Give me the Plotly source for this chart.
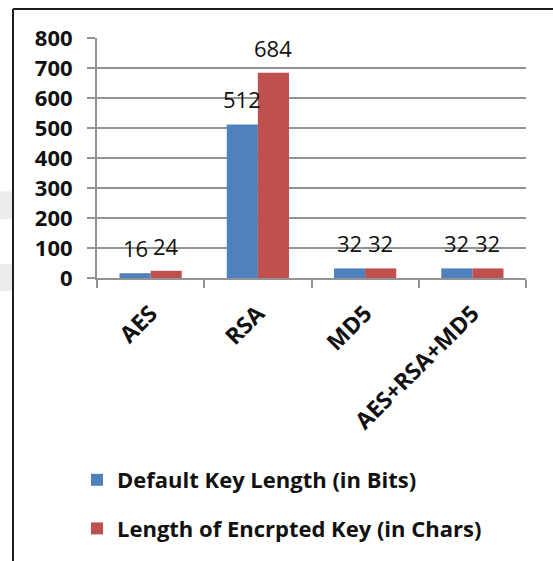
import plotly.graph_objects as go

# Key lengths per algorithm
algorithms = ["AES", "RSA", "MD5", "AES+RSA+MD5"]
default_key_bits = [16, 512, 32, 32]
encrypted_key_chars = [24, 684, 32, 32]
series_names = ["Default Key Length (in Bits)", "Length of Encrpted Key (in Chars)"]
series_colors = ["#4F81BD", "#C0504D"]
y_ticks = [0, 100, 200, 300, 400, 500, 600, 700, 800]

W, H = 553, 561
ML, MR, MT, MB = 97, 27, 38, 282
PW, PH = W - ML - MR, H - MT - MB
FONT = "Open Sans"


def px_x(x):
    return (x - ML) / PW


def px_y(y):
    return 1 - (y - MT) / PH


BARGAP = 0.42
bar_w = (1 - BARGAP) / 2

fig = go.Figure()
for i, (name, vals, col) in enumerate(zip(series_names,
                                           [default_key_bits, encrypted_key_chars],
                                           series_colors)):
    fig.add_trace(go.Bar(
        x=algorithms, y=vals, name=name, marker_color=col,
        marker_line_width=0, legendgroup=f"g{i}",
    ))

# value labels over each bar
annotations = []
for i, vals in enumerate([default_key_bits, encrypted_key_chars]):
    offset = (i - 0.5) * bar_w
    for k, v in enumerate(vals):
        annotations.append(dict(
            x=k + offset, y=v, xref="x", yref="y", text=str(v),
            showarrow=False, yanchor="middle", yshift=25,
            font=dict(family=FONT, size=22, color="#111111"),
        ))

grid_col = "#939393"
fig.update_layout(
    width=W, height=H,
    margin=dict(l=ML, r=MR, t=MT, b=MB),
    paper_bgcolor="white", plot_bgcolor="white",
    barmode="group", bargap=BARGAP, bargroupgap=0,
    font=dict(family=FONT, color="#111111"),
    annotations=annotations,
    showlegend=True,
    legend=dict(
        orientation="v", x=px_x(77), y=px_y(459), xanchor="left", yanchor="top",
        font=dict(family=FONT, size=22, color="#111111", weight="bold"),
        traceorder="grouped", tracegroupgap=17, bgcolor="rgba(0,0,0,0)",
    ),
    xaxis=dict(
        type="category", tickson="boundaries", ticks="outside", ticklen=8,
        tickcolor=grid_col, tickwidth=2, showline=True, linecolor=grid_col,
        linewidth=2, showgrid=False, tickangle=-45, ticklabelstandoff=11,
        tickfont=dict(family=FONT, size=23, color="#111111", weight="bold"),
    ),
    yaxis=dict(
        range=[0, 800], tickvals=y_ticks, ticks="outside", ticklen=8,
        tickcolor=grid_col, tickwidth=2, showline=True, linecolor=grid_col,
        linewidth=2, showgrid=True, gridcolor=grid_col, gridwidth=2,
        zeroline=False, ticklabelstandoff=10,
        tickfont=dict(family=FONT, size=22, color="#111111", weight="bold"),
    ),
    shapes=[
        # surrounding frame (top and left edges)
        dict(type="line", xref="paper", yref="paper",
             x0=px_x(13), x1=px_x(560), y0=px_y(9), y1=px_y(9),
             line=dict(color="#1e1e1e", width=2)),
        dict(type="line", xref="paper", yref="paper",
             x0=px_x(13), x1=px_x(13), y0=px_y(9), y1=px_y(570),
             line=dict(color="#1e1e1e", width=2)),
        # light page shading at the left margin
        dict(type="rect", xref="paper", yref="paper",
             x0=px_x(0), x1=px_x(12), y0=px_y(192), y1=px_y(220),
             fillcolor="#ececec", line_width=0, layer="below"),
        dict(type="rect", xref="paper", yref="paper",
             x0=px_x(0), x1=px_x(12), y0=px_y(265), y1=px_y(292),
             fillcolor="#ececec", line_width=0, layer="below"),
    ],
)

fig.write_html("out.html")
